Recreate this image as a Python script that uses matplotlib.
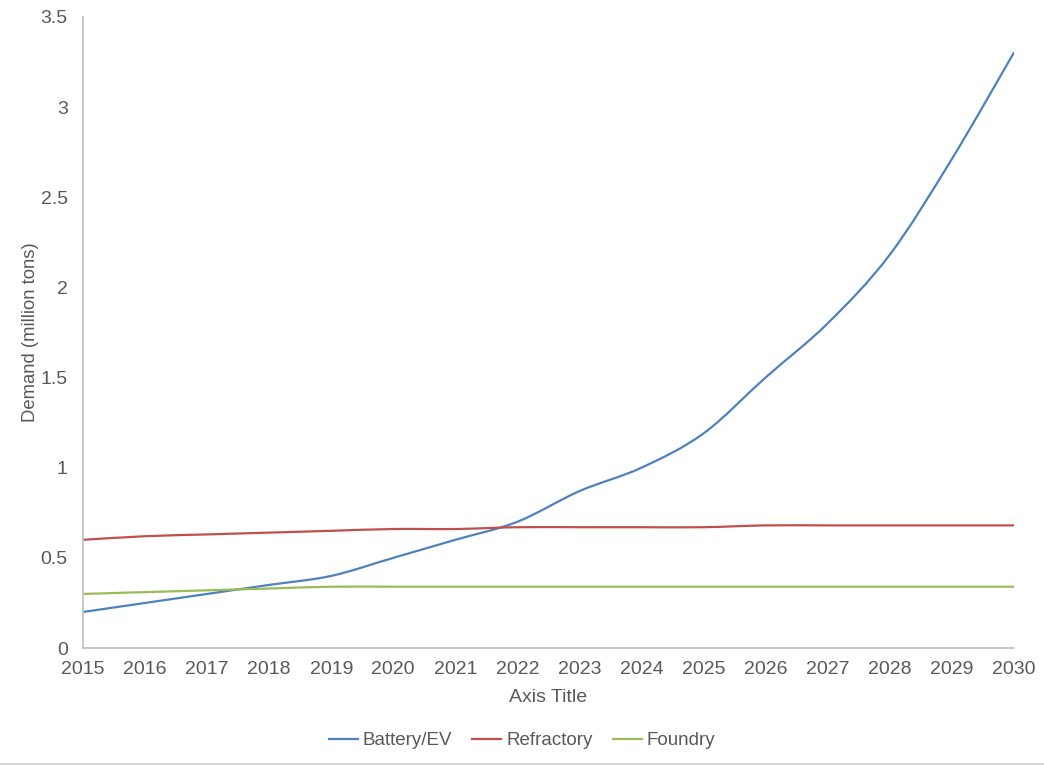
import matplotlib.pyplot as plt
from matplotlib.path import Path
from matplotlib.patches import PathPatch
from matplotlib.lines import Line2D

years = [2015, 2016, 2017, 2018, 2019, 2020, 2021, 2022,
         2023, 2024, 2025, 2026, 2027, 2028, 2029, 2030]
battery = [0.20, 0.25, 0.30, 0.35, 0.40, 0.50, 0.60, 0.70,
           0.87, 1.00, 1.19, 1.50, 1.80, 2.18, 2.71, 3.30]
refractory = [0.60, 0.62, 0.63, 0.64, 0.65, 0.66, 0.66, 0.67,
              0.67, 0.67, 0.67, 0.68, 0.68, 0.68, 0.68, 0.68]
foundry = [0.30, 0.31, 0.32, 0.33, 0.34, 0.34, 0.34, 0.34,
           0.34, 0.34, 0.34, 0.34, 0.34, 0.34, 0.34, 0.34]

names = ['Battery/EV', 'Refractory', 'Foundry']
colors = ['#4F81BD', '#C0504D', '#9BBB59']
text_col = '#595959'
axis_col = '#BFBFBF'

plt.rcParams['font.family'] = ['Liberation Sans', 'DejaVu Sans']


def smooth_path(xs, ys):
    # Excel-like smoothed line: cubic bezier through each point
    pts = list(zip(xs, ys))
    n = len(pts)
    verts = [pts[0]]
    codes = [Path.MOVETO]
    for i in range(n - 1):
        p0 = pts[i - 1] if i > 0 else pts[i]
        p1 = pts[i]
        p2 = pts[i + 1]
        p3 = pts[i + 2] if i + 2 < n else pts[i + 1]
        c1 = (p1[0] + (p2[0] - p0[0]) / 6, p1[1] + (p2[1] - p0[1]) / 6)
        c2 = (p2[0] - (p3[0] - p1[0]) / 6, p2[1] - (p3[1] - p1[1]) / 6)
        verts += [c1, c2, p2]
        codes += [Path.CURVE4] * 3
    return Path(verts, codes)


fig = plt.figure(figsize=(10.44, 7.66), dpi=100)
ax = fig.add_axes([0.0795, 0.154, 0.8915, 0.824])

for series, col in zip([battery, refractory, foundry], colors):
    ax.add_patch(PathPatch(smooth_path(years, series), fill=False,
                           edgecolor=col, lw=1.6, capstyle='round'))

ax.set_xlim(2015, 2030)
ax.set_ylim(0, 3.5)
ax.set_xticks(years)
ax.set_yticks([0, 0.5, 1, 1.5, 2, 2.5, 3, 3.5])
ax.set_yticklabels(['0', '0.5', '1', '1.5', '2', '2.5', '3', '3.5'])
ax.tick_params(length=0, labelsize=14, colors=text_col, pad=11)
ax.tick_params(axis='x', pad=9)

for s in ['top', 'right']:
    ax.spines[s].set_visible(False)
for s in ['left', 'bottom']:
    ax.spines[s].set_color(axis_col)
    ax.spines[s].set_linewidth(1.2)

ax.set_xlabel('Axis Title', fontsize=14, color=text_col, labelpad=8)
ax.set_ylabel('Demand (million tons)', fontsize=13.3, color=text_col, labelpad=1)

handles = [Line2D([], [], color=c, lw=1.6) for c in colors]
fig.legend(handles, names, loc='center', bbox_to_anchor=(0.5, 0.033),
           ncol=3, frameon=False, fontsize=13.5, labelcolor=text_col,
           handlelength=1.55, handletextpad=0.25, columnspacing=1.1)

fig.add_artist(Line2D([0, 1], [0.002, 0.002], color='#D9D9D9', lw=1.5,
                      transform=fig.transFigure))

fig.savefig('out.png', dpi=100, facecolor='white')
